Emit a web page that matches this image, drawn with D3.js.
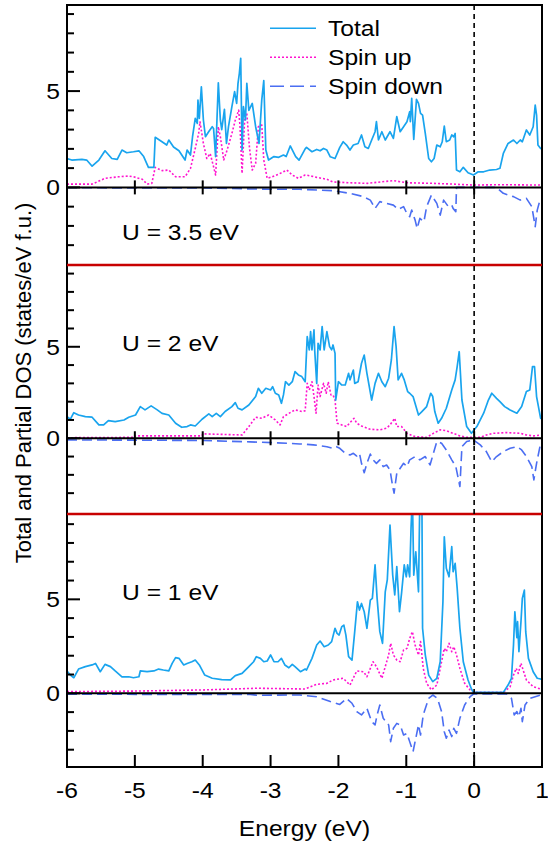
<!DOCTYPE html>
<html>
<head>
<meta charset="utf-8">
<script src="https://cdn.jsdelivr.net/npm/d3@7"></script>
<style>
body{margin:0;background:#fff;}
text{font-family:"Liberation Sans",Arial,Helvetica,sans-serif;fill:#000;}
</style>
</head>
<body>
<svg id="chart" width="548" height="844"></svg>
<script>
// [energy (eV), DOS]

// U = 3.5 eV
var total35 = [[-6.00,1.50],[-5.93,1.42],[-5.78,1.45],[-5.71,1.42],[-5.63,1.10],[-5.53,1.42],[-5.44,1.90],[-5.34,1.50],[-5.26,1.45],[-5.19,1.94],[-5.12,1.80],[-5.02,1.85],[-4.94,1.90],[-4.87,1.60],[-4.80,1.04],[-4.72,1.04],[-4.70,2.60],[-4.60,2.37],[-4.53,2.20],[-4.50,2.46],[-4.43,2.10],[-4.35,1.90],[-4.26,1.42],[-4.23,1.94],[-4.18,1.68],[-4.15,2.63],[-4.11,3.58],[-4.08,3.32],[-4.07,4.53],[-4.05,3.58],[-4.02,5.22],[-3.99,3.50],[-3.96,2.63],[-3.91,2.90],[-3.86,3.15],[-3.84,3.06],[-3.81,1.60],[-3.77,5.43],[-3.74,3.50],[-3.72,3.00],[-3.68,4.05],[-3.65,2.28],[-3.62,3.15],[-3.57,4.19],[-3.53,4.97],[-3.50,4.36],[-3.48,5.40],[-3.46,5.92],[-3.44,6.70],[-3.42,1.94],[-3.40,4.19],[-3.37,3.50],[-3.35,5.40],[-3.32,4.00],[-3.27,4.36],[-3.22,3.15],[-3.17,2.28],[-3.13,4.53],[-3.10,5.54],[-3.07,1.94],[-3.03,1.42],[-2.95,1.60],[-2.88,1.56],[-2.81,1.68],[-2.77,1.60],[-2.71,2.15],[-2.63,1.60],[-2.58,1.42],[-2.49,2.00],[-2.47,2.08],[-2.39,1.85],[-2.32,1.97],[-2.27,1.90],[-2.22,2.02],[-2.17,1.94],[-2.12,1.59],[-2.05,1.50],[-1.98,2.08],[-1.93,2.37],[-1.88,2.20],[-1.83,1.94],[-1.78,2.20],[-1.71,2.28],[-1.66,2.72],[-1.61,2.11],[-1.56,2.02],[-1.51,2.46],[-1.46,2.89],[-1.44,3.41],[-1.41,2.46],[-1.36,2.89],[-1.31,2.46],[-1.24,2.89],[-1.19,2.54],[-1.14,3.67],[-1.09,2.89],[-1.04,3.15],[-0.99,3.41],[-0.95,3.93],[-0.94,3.41],[-0.92,4.62],[-0.89,2.49],[-0.85,4.57],[-0.82,4.36],[-0.79,3.84],[-0.76,3.75],[-0.72,2.80],[-0.67,1.50],[-0.63,1.33],[-0.59,1.50],[-0.55,2.20],[-0.50,2.11],[-0.47,2.37],[-0.44,3.18],[-0.41,2.37],[-0.36,2.46],[-0.33,2.72],[-0.30,2.63],[-0.28,2.80],[-0.26,0.90],[-0.21,0.81],[-0.16,1.04],[-0.09,0.76],[-0.01,0.64],[0.06,0.81],[0.14,0.81],[0.23,0.90],[0.33,0.93],[0.38,0.99],[0.43,1.76],[0.50,2.28],[0.58,2.46],[0.63,2.28],[0.68,2.46],[0.71,2.37],[0.77,2.98],[0.82,2.72],[0.87,3.15],[0.90,4.27],[0.92,3.75],[0.94,2.20],[0.98,2.02],[1.00,2.00]];
var up35 = [[-6.00,0.17],[-5.63,0.17],[-5.44,0.47],[-5.24,0.55],[-5.09,0.59],[-5.02,0.55],[-4.89,0.42],[-4.82,0.17],[-4.75,0.21],[-4.70,1.04],[-4.60,0.87],[-4.50,0.90],[-4.40,0.55],[-4.26,0.55],[-4.18,0.99],[-4.11,2.02],[-4.06,2.80],[-4.04,3.41],[-3.99,2.28],[-3.94,1.50],[-3.89,1.76],[-3.84,1.07],[-3.81,0.64],[-3.77,3.15],[-3.74,2.63],[-3.69,1.42],[-3.64,1.94],[-3.57,2.80],[-3.52,3.49],[-3.47,4.01],[-3.45,3.15],[-3.42,0.73],[-3.38,3.67],[-3.35,3.84],[-3.31,2.02],[-3.27,0.90],[-3.22,1.25],[-3.18,3.15],[-3.13,3.24],[-3.10,1.42],[-3.05,0.47],[-2.98,0.55],[-2.88,0.69],[-2.76,0.90],[-2.68,0.64],[-2.59,0.47],[-2.49,0.64],[-2.47,0.64],[-2.32,0.52],[-2.17,0.42],[-2.08,0.28],[-1.83,0.24],[-1.58,0.21],[-1.19,0.35],[-0.99,0.24],[-0.60,0.21],[-0.31,0.17],[-0.01,0.12],[0.38,0.14],[1.00,0.12]];
var down35 = [[-6.00,-0.02],[-4.00,-0.03],[-3.30,-0.08],[-3.00,-0.10],[-2.57,-0.10],[-2.08,-0.17],[-1.83,-0.31],[-1.63,-0.48],[-1.53,-0.66],[-1.46,-1.09],[-1.39,-0.74],[-1.29,-0.83],[-1.19,-0.92],[-1.12,-1.14],[-1.04,-1.00],[-0.98,-1.44],[-0.95,-1.52],[-0.92,-1.18],[-0.87,-1.70],[-0.84,-2.13],[-0.80,-1.61],[-0.74,-1.78],[-0.70,-1.00],[-0.63,-0.40],[-0.55,-0.83],[-0.50,-1.44],[-0.45,-0.66],[-0.38,-1.00],[-0.33,-0.92],[-0.31,-1.09],[-0.27,-1.26],[-0.26,0],[0.33,0],[0.43,-0.31],[0.58,-0.48],[0.68,-0.66],[0.77,-0.57],[0.85,-1.00],[0.90,-2.04],[0.93,-1.18],[0.97,-0.66],[1.00,-0.60]];

// U = 2 eV
var total2 = [[-6.00,1.18],[-5.95,1.04],[-5.90,1.40],[-5.83,1.27],[-5.73,1.18],[-5.63,1.15],[-5.53,0.73],[-5.46,0.73],[-5.39,0.96],[-5.29,0.91],[-5.16,1.00],[-5.09,1.15],[-4.99,1.27],[-4.92,1.73],[-4.85,1.55],[-4.76,1.77],[-4.67,1.55],[-4.60,1.36],[-4.50,1.27],[-4.40,0.82],[-4.31,0.60],[-4.23,0.64],[-4.18,0.73],[-4.11,0.67],[-4.01,1.04],[-3.91,1.33],[-3.86,1.18],[-3.80,1.36],[-3.74,1.18],[-3.67,1.46],[-3.57,1.73],[-3.52,1.95],[-3.48,1.64],[-3.42,1.55],[-3.32,1.82],[-3.22,2.28],[-3.18,2.73],[-3.13,2.46],[-3.07,2.73],[-3.00,2.64],[-2.97,2.82],[-2.93,2.46],[-2.88,2.37],[-2.84,1.91],[-2.81,2.37],[-2.78,3.09],[-2.73,2.91],[-2.68,3.09],[-2.64,3.64],[-2.59,3.46],[-2.54,3.37],[-2.49,3.09],[-2.46,5.55],[-2.43,4.83],[-2.41,5.83],[-2.39,4.83],[-2.36,5.92],[-2.35,4.83],[-2.32,3.00],[-2.30,5.19],[-2.27,4.83],[-2.24,6.10],[-2.21,4.83],[-2.17,5.83],[-2.13,5.01],[-2.10,4.83],[-2.08,5.10],[-2.05,4.64],[-2.04,2.09],[-2.00,3.09],[-1.95,2.91],[-1.90,2.91],[-1.85,3.55],[-1.83,3.19],[-1.78,3.73],[-1.76,3.00],[-1.71,3.09],[-1.66,4.10],[-1.62,4.55],[-1.58,3.55],[-1.51,2.09],[-1.46,3.00],[-1.41,3.55],[-1.36,3.09],[-1.31,2.82],[-1.26,3.28],[-1.22,4.28],[-1.18,6.10],[-1.15,5.01],[-1.12,3.19],[-1.07,3.55],[-1.03,3.19],[-0.98,2.55],[-0.95,2.46],[-0.90,2.28],[-0.82,1.27],[-0.77,1.46],[-0.70,1.73],[-0.64,2.46],[-0.61,2.28],[-0.58,1.46],[-0.53,0.82],[-0.48,1.09],[-0.41,1.64],[-0.33,2.64],[-0.28,3.19],[-0.25,3.91],[-0.22,4.73],[-0.18,2.09],[-0.11,0.64],[-0.04,0.27],[0.04,0.64],[0.14,1.37],[0.21,2.09],[0.26,2.46],[0.33,2.18],[0.38,2.00],[0.45,1.73],[0.53,1.55],[0.63,1.37],[0.70,1.73],[0.77,2.55],[0.82,2.64],[0.86,3.91],[0.89,3.91],[0.92,2.28],[0.98,1.09],[1.00,1.05]];
var up2 = [[-6.00,0.03],[-5.00,0.05],[-4.99,0.13],[-4.01,0.13],[-4.00,0.24],[-3.42,0.18],[-3.32,0.64],[-3.22,1.15],[-3.13,1.09],[-3.03,1.27],[-2.93,1.00],[-2.86,0.73],[-2.81,1.18],[-2.73,1.36],[-2.64,1.55],[-2.54,1.46],[-2.49,1.50],[-2.46,3.00],[-2.43,2.64],[-2.39,3.09],[-2.36,2.28],[-2.33,1.37],[-2.30,2.91],[-2.27,2.28],[-2.22,3.00],[-2.18,2.46],[-2.15,3.09],[-2.11,2.37],[-2.08,2.37],[-2.05,2.09],[-2.02,0.82],[-1.95,0.73],[-1.88,0.64],[-1.83,0.85],[-1.77,1.09],[-1.73,0.82],[-1.66,0.67],[-1.53,0.49],[-1.39,0.46],[-1.29,0.55],[-1.24,0.73],[-1.17,1.09],[-1.14,0.64],[-1.07,0.64],[-0.99,0.27],[-0.87,0.09],[-0.70,0.05],[-0.60,0.27],[-0.50,0.46],[-0.41,0.42],[-0.31,0.27],[-0.21,0.13],[-0.11,0.05],[0.09,0.05],[0.18,0.18],[0.28,0.27],[0.48,0.31],[0.68,0.27],[0.77,0.18],[0.87,0.13],[1.00,0.18]];
var down2 = [[-6.00,-0.09],[-4.00,-0.12],[-3.30,-0.20],[-2.90,-0.25],[-2.57,-0.31],[-2.37,-0.36],[-2.17,-0.46],[-2.08,-0.55],[-2.03,-0.46],[-1.98,-0.55],[-1.90,-0.82],[-1.83,-0.91],[-1.78,-0.82],[-1.73,-0.97],[-1.69,-0.82],[-1.66,-1.37],[-1.62,-1.88],[-1.58,-1.37],[-1.53,-0.86],[-1.49,-1.18],[-1.44,-1.37],[-1.39,-1.18],[-1.34,-1.55],[-1.29,-1.46],[-1.24,-1.73],[-1.20,-2.64],[-1.18,-3.00],[-1.14,-1.91],[-1.09,-1.64],[-1.04,-1.37],[-0.99,-1.55],[-0.95,-1.18],[-0.87,-1.00],[-0.80,-1.18],[-0.72,-1.00],[-0.65,-1.46],[-0.60,-0.82],[-0.55,-0.18],[-0.48,-0.27],[-0.41,-0.64],[-0.33,-1.18],[-0.27,-1.55],[-0.23,-2.28],[-0.21,-2.64],[-0.18,-0.46],[-0.11,-0.18],[-0.01,-0.09],[0.09,-0.36],[0.18,-0.73],[0.26,-1.28],[0.33,-1.00],[0.43,-0.73],[0.53,-0.55],[0.63,-0.46],[0.70,-0.64],[0.77,-1.00],[0.85,-1.55],[0.88,-2.28],[0.92,-1.37],[0.98,-0.27],[1.00,-0.20]];

// U = 1 eV
var total1 = [[-6.00,1.19],[-5.95,0.97],[-5.90,0.83],[-5.83,1.29],[-5.73,1.42],[-5.63,1.51],[-5.58,1.59],[-5.51,1.15],[-5.44,1.54],[-5.36,1.42],[-5.29,1.19],[-5.19,0.88],[-5.09,0.88],[-5.02,0.83],[-4.94,0.88],[-4.92,1.19],[-4.82,1.15],[-4.72,1.19],[-4.65,1.29],[-4.58,1.24],[-4.50,1.19],[-4.45,1.59],[-4.40,1.90],[-4.35,1.86],[-4.28,1.51],[-4.23,1.59],[-4.16,1.68],[-4.11,1.77],[-4.05,1.51],[-3.97,0.97],[-3.86,0.80],[-3.72,0.73],[-3.59,0.71],[-3.52,0.94],[-3.42,1.06],[-3.32,1.42],[-3.25,1.68],[-3.21,1.95],[-3.15,1.86],[-3.10,1.68],[-3.05,1.72],[-3.00,2.04],[-2.95,1.68],[-2.89,1.68],[-2.84,1.86],[-2.79,1.51],[-2.73,1.36],[-2.68,1.54],[-2.64,1.42],[-2.56,1.15],[-2.49,1.29],[-2.47,1.24],[-2.39,1.86],[-2.32,2.57],[-2.27,2.78],[-2.21,2.48],[-2.15,2.57],[-2.10,2.75],[-2.05,3.46],[-2.02,3.19],[-1.99,3.10],[-1.95,3.55],[-1.92,3.63],[-1.89,3.10],[-1.85,1.95],[-1.80,1.77],[-1.76,3.28],[-1.72,4.87],[-1.69,4.43],[-1.66,4.78],[-1.62,4.34],[-1.58,3.46],[-1.53,4.96],[-1.50,5.05],[-1.46,6.83],[-1.43,5.05],[-1.39,3.28],[-1.35,2.66],[-1.31,5.40],[-1.28,6.03],[-1.24,8.95],[-1.20,6.29],[-1.17,5.23],[-1.14,6.74],[-1.10,4.34],[-1.07,5.32],[-1.03,6.83],[-1.00,6.20],[-0.98,6.83],[-0.95,6.20],[-0.93,8.78],[-0.91,10.5],[-0.89,6.29],[-0.86,7.53],[-0.82,5.40],[-0.80,10.5],[-0.77,10.5],[-0.76,3.46],[-0.72,2.04],[-0.67,0.97],[-0.61,0.62],[-0.55,0.80],[-0.50,1.68],[-0.46,4.87],[-0.44,8.33],[-0.41,6.65],[-0.37,6.20],[-0.33,7.80],[-0.31,6.47],[-0.28,6.91],[-0.25,5.58],[-0.21,3.46],[-0.16,1.68],[-0.09,0.71],[-0.04,0.23],[-0.01,0.05],[0.18,0.05],[0.43,0.05],[0.50,0.44],[0.55,0.80],[0.58,2.57],[0.60,4.34],[0.63,2.96],[0.64,3.81],[0.66,2.22],[0.69,3.81],[0.71,5.05],[0.74,5.49],[0.76,3.28],[0.80,1.86],[0.87,1.15],[0.93,0.80],[0.98,0.76],[1.00,0.75]];
var up1 = [[-6.00,0.09],[-5.00,0.12],[-4.00,0.18],[-3.20,0.27],[-2.49,0.23],[-2.32,0.48],[-2.17,0.53],[-2.08,0.71],[-1.93,0.80],[-1.83,0.44],[-1.73,1.19],[-1.63,1.15],[-1.58,0.88],[-1.49,1.68],[-1.44,1.42],[-1.36,0.80],[-1.31,1.42],[-1.26,2.04],[-1.23,2.66],[-1.19,2.04],[-1.14,1.77],[-1.09,1.68],[-1.04,2.30],[-0.99,2.39],[-0.95,2.92],[-0.91,3.28],[-0.87,2.57],[-0.82,2.04],[-0.79,2.75],[-0.75,1.33],[-0.70,0.53],[-0.63,0.18],[-0.55,0.44],[-0.48,1.68],[-0.44,2.39],[-0.41,2.21],[-0.37,2.66],[-0.33,2.21],[-0.30,2.48],[-0.26,2.04],[-0.21,1.33],[-0.14,0.53],[-0.06,0.18],[-0.01,0.05],[0.43,0.05],[0.53,0.35],[0.58,0.97],[0.62,1.33],[0.65,1.06],[0.69,1.60],[0.73,1.15],[0.77,0.71],[0.87,0.35],[0.98,0.23],[1.00,0.23]];
var down1 = [[-6.00,-0.05],[-3.30,-0.06],[-3.20,-0.10],[-2.57,-0.09],[-2.32,-0.18],[-2.12,-0.44],[-1.98,-0.59],[-1.88,-0.27],[-1.80,-0.53],[-1.73,-0.97],[-1.66,-1.15],[-1.58,-0.80],[-1.51,-1.51],[-1.46,-1.68],[-1.43,-1.15],[-1.39,-0.62],[-1.34,-1.33],[-1.26,-1.68],[-1.23,-2.57],[-1.19,-1.86],[-1.14,-1.60],[-1.09,-1.68],[-1.04,-2.22],[-0.99,-2.13],[-0.95,-2.57],[-0.90,-3.10],[-0.86,-2.39],[-0.82,-1.68],[-0.79,-2.22],[-0.75,-1.15],[-0.67,-0.27],[-0.61,-0.09],[-0.54,-0.27],[-0.48,-0.97],[-0.44,-2.04],[-0.41,-2.39],[-0.37,-1.95],[-0.33,-2.30],[-0.30,-1.86],[-0.26,-2.13],[-0.21,-1.33],[-0.14,-0.62],[-0.06,-0.18],[-0.01,-0.04],[0.48,-0.04],[0.55,-0.27],[0.59,-1.15],[0.63,-0.97],[0.66,-1.24],[0.69,-0.80],[0.71,-1.51],[0.75,-0.62],[0.82,-0.27],[0.98,-0.09],[1.00,-0.08]];

var panelLabels = ["U = 3.5 eV", "U = 2 eV", "U = 1 eV"];
var seriesNames = ["Total", "Spin up", "Spin down"];
var xTicks = [-6, -5, -4, -3, -2, -1, 0, 1];
var yMajorTicks = [0, 5];
var yMinorTicks = [-3, -2, -1, 1, 2, 3, 4, 6, 7, 8, 9];

var colors = {total: "#19a4ee", up: "#ff14cf", down: "#4b6ef2"};
var dashes = {total: null, up: "2,2", down: "10,5"};
var sx = 1.12; // glyphs in the figure are a bit wide

var svg = d3.select("#chart");
var left = 67, right = 542;

var x = d3.scaleLinear().domain([-6, 1]).range([left, right]);

var panels = [
	{top: 5,   bottom: 265, lo: -4.03, hi: 9.47, data: {total: total35, up: up35, down: down35}},
	{top: 265, bottom: 514, lo: -4.14, hi: 9.47, data: {total: total2, up: up2, down: down2}},
	{top: 514, bottom: 767, lo: -3.92, hi: 9.54, data: {total: total1, up: up1, down: down1}}
];

function label(g, px, py, s, anchor, size){
	g.append("text")
	 .attr("transform", "translate(" + px + "," + py + ") scale(" + sx + ",1)")
	 .attr("text-anchor", anchor)
	 .style("font-size", (size || 22) + "px")
	 .text(s);
}

var defs = svg.append("defs");

panels.forEach(function(p, i){
	var y = d3.scaleLinear().domain([p.lo, p.hi]).range([p.bottom, p.top]);
	p.y = y;
	defs.append("clipPath").attr("id", "clip" + i)
		.append("rect").attr("x", left).attr("y", p.top)
		.attr("width", right - left).attr("height", p.bottom - p.top);

	var line = d3.line().x(function(d){ return x(d[0]); }).y(function(d){ return y(d[1]); });
	var g = svg.append("g").attr("clip-path", "url(#clip" + i + ")");

	["down", "up", "total"].forEach(function(k){
		g.append("path")
		 .attr("d", line(p.data[k]))
		 .attr("fill", "none")
		 .attr("stroke", colors[k])
		 .attr("stroke-width", k == "total" ? 1.7 : 1.6)
		 .attr("stroke-dasharray", dashes[k])
		 .attr("stroke-linejoin", "round");
	});

	// zero line
	svg.append("line")
	   .attr("x1", left).attr("x2", right)
	   .attr("y1", y(0)).attr("y2", y(0))
	   .attr("stroke", "#000").attr("stroke-width", 2);

	// energy ticks crossing the zero line (upper two panels)
	if(i < 2){
		svg.selectAll(null).data(xTicks.slice(1, 7)).enter().append("line")
		   .attr("x1", function(d){ return x(d); }).attr("x2", function(d){ return x(d); })
		   .attr("y1", y(0) - 7).attr("y2", y(0) + 7)
		   .attr("stroke", "#000").attr("stroke-width", 2);
	}

	// DOS ticks on the left border
	svg.selectAll(null).data(yMinorTicks).enter().append("line")
	   .attr("x1", left).attr("x2", left + 7)
	   .attr("y1", function(d){ return y(d); }).attr("y2", function(d){ return y(d); })
	   .attr("stroke", "#000").attr("stroke-width", 2);
	svg.selectAll(null).data(yMajorTicks).enter().append("line")
	   .attr("x1", left).attr("x2", left + 13)
	   .attr("y1", function(d){ return y(d); }).attr("y2", function(d){ return y(d); })
	   .attr("stroke", "#000").attr("stroke-width", 2);
	yMajorTicks.forEach(function(t){
		label(svg, left - 7, y(t) + 8, String(t), "end");
	});

	label(svg, 122, [240, 351, 600][i], panelLabels[i], "start");
});

// bottom energy axis ticks
var yb = panels[2].bottom;
svg.selectAll(null).data(xTicks).enter().append("line")
   .attr("x1", function(d){ return x(d); }).attr("x2", function(d){ return x(d); })
   .attr("y1", yb).attr("y2", yb - 12)
   .attr("stroke", "#000").attr("stroke-width", 2);
xTicks.forEach(function(t){
	label(svg, x(t), 798, String(t), "middle");
});
label(svg, (left + right) / 2, 836, "Energy (eV)", "middle");

// frame
svg.append("rect")
   .attr("x", left).attr("y", panels[0].top)
   .attr("width", right - left).attr("height", yb - panels[0].top)
   .attr("fill", "none").attr("stroke", "#000").attr("stroke-width", 2);

// red separators
[panels[1].top, panels[2].top].forEach(function(py){
	svg.append("line")
	   .attr("x1", left).attr("x2", right).attr("y1", py).attr("y2", py)
	   .attr("stroke", "#c80000").attr("stroke-width", 2.5);
});

// Fermi level
svg.append("line")
   .attr("x1", x(0)).attr("x2", x(0))
   .attr("y1", panels[0].top).attr("y2", yb)
   .attr("stroke", "#000").attr("stroke-width", 1.6)
   .attr("stroke-dasharray", "5,4");

// y title
svg.append("text")
   .attr("transform", "translate(31,383) rotate(-90)")
   .attr("text-anchor", "middle")
   .style("font-size", "22px")
   .text("Total and Partial DOS (states/eV f.u.)");

// legend
var legKeys = ["total", "up", "down"];
legKeys.forEach(function(k, i){
	var by = 35.7 + i * 29;
	svg.append("line")
	   .attr("x1", 270).attr("x2", 316)
	   .attr("y1", by - 7.5).attr("y2", by - 7.5)
	   .attr("stroke", colors[k]).attr("stroke-width", 1.6)
	   .attr("stroke-dasharray", k == "down" ? "14,6" : dashes[k]);
	label(svg, 328, by, seriesNames[i], "start");
});
</script>
</body>
</html>
